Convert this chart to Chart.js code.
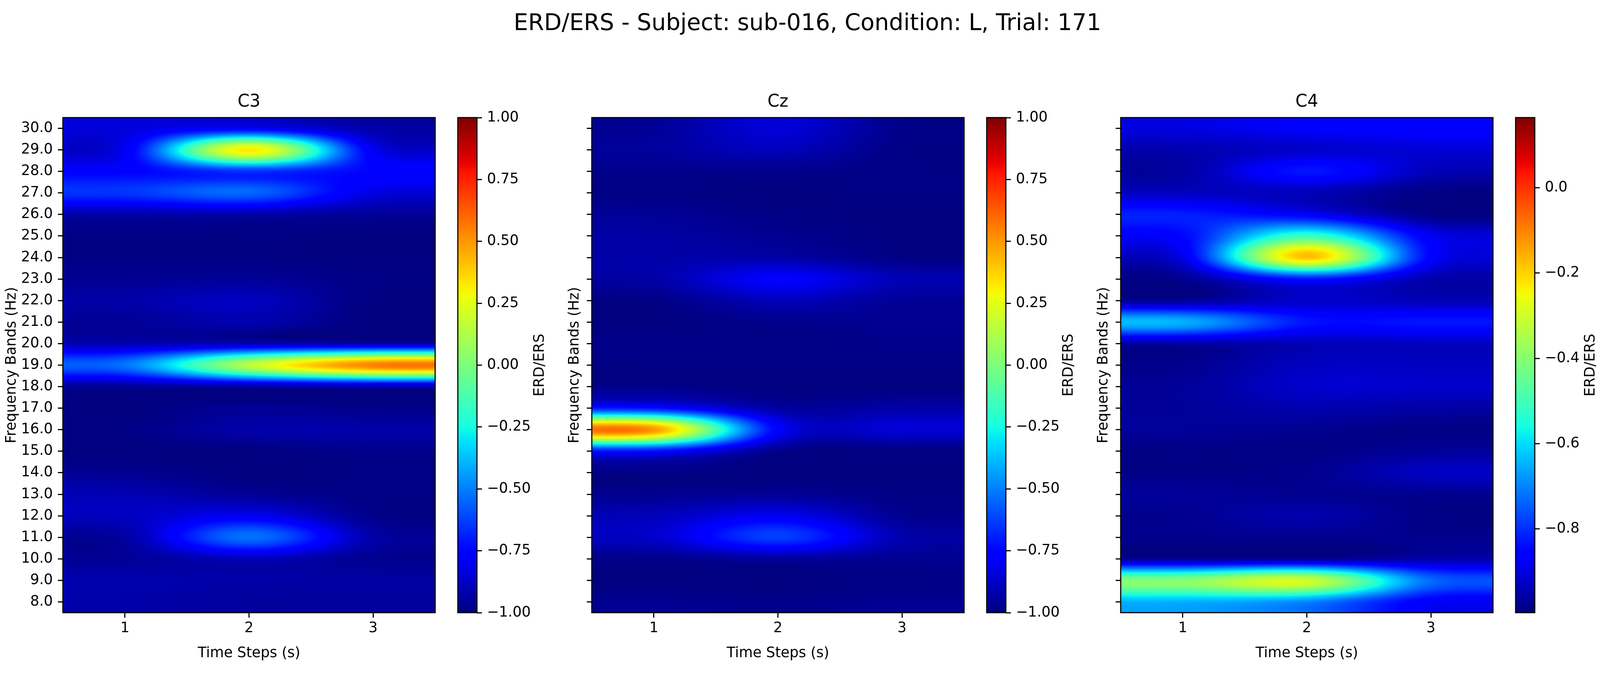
<!DOCTYPE html>
<html lang="en">
<head>
  <meta charset="UTF-8">
  <title>ERD/ERS</title>
  <script src="https://cdn.jsdelivr.net/npm/chart.js"></script>
  <style>
    html, body {
      margin: 0;
      background: #fff;
      overflow: hidden;
    }

    #page {
      position: relative;
      width: 100vw;
      height: 1725px;
      overflow: hidden;
      font-family: 'DejaVu Sans', sans-serif;
    }

    #suptitle {
      position: absolute;
      left: 0;
      top: 17px;
      text-align: center;
      line-height: 80px;
      color: #000;
      white-space: nowrap;
    }

    canvas {
      position: absolute;
      top: 0;
    }
  </style>
</head>
<body>
  <div id="page">
    <div id="suptitle">ERD/ERS - Subject: sub-016, Condition: L, Trial: 171</div>
  </div>

  <script>
    const timeSteps = [1, 2, 3];
    const freqBands = [8, 9, 10, 11, 12, 13, 14, 15, 16, 17, 18, 19, 20, 21, 22, 23, 24, 25, 26, 27, 28, 29, 30];

    // values per time step, 8 Hz first
    const c3T1 = [-0.93, -0.92, -0.96, -0.94, -0.89, -0.91, -0.97, -1.0, -0.99, -1.0, -0.96, -0.52, -0.91, -0.96, -0.93, -0.97, -0.99, -0.99, -0.93, -0.65, -0.76, -0.80, -0.84];
    const c3T2 = [-0.95, -0.93, -0.90, -0.53, -0.80, -0.96, -1.0, -1.0, -0.93, -0.96, -0.94, 0.15, -0.90, -0.92, -0.89, -0.96, -0.99, -0.99, -0.93, -0.55, -0.66, 0.33, -0.78];
    const c3T3 = [-0.95, -0.94, -0.97, -0.93, -0.98, -0.99, -0.99, -0.98, -0.93, -0.98, -0.92, 0.55, -0.91, -1.0, -1.0, -0.99, -1.0, -1.0, -0.96, -0.83, -0.75, -0.80, -0.93];

    const czT1 = [-0.97, -1.0, -0.98, -0.87, -0.90, -0.97, -0.99, -0.74, 0.50, -0.72, -0.98, -0.99, -0.98, -1.0, -0.99, -0.93, -0.93, -0.94, -0.96, -0.99, -0.98, -0.95, -0.96];
    const czT2 = [-0.98, -1.0, -0.95, -0.63, -0.80, -0.96, -1.0, -0.98, -0.77, -0.94, -1.0, -0.99, -0.99, -0.98, -0.90, -0.78, -0.93, -0.97, -0.99, -1.0, -0.98, -0.90, -0.85];
    const czT3 = [-0.97, -0.99, -0.97, -0.92, -0.97, -0.99, -1.0, -1.0, -0.85, -0.93, -1.0, -0.99, -0.98, -0.97, -0.96, -0.91, -0.99, -1.0, -1.0, -0.99, -0.99, -0.99, -0.98];

    const c4T1 = [-0.65, -0.40, -0.97, -0.98, -0.98, -0.97, -0.99, -0.99, -0.97, -0.97, -0.97, -0.98, -0.96, -0.65, -0.97, -0.98, -0.89, -0.85, -0.82, -0.93, -0.96, -0.95, -0.90];
    const c4T2 = [-0.70, -0.30, -0.97, -0.98, -0.95, -0.98, -0.98, -0.99, -0.98, -0.95, -0.92, -0.93, -0.94, -0.83, -0.92, -0.83, -0.18, -0.51, -0.87, -0.94, -0.83, -0.92, -0.87];
    const c4T3 = [-0.87, -0.73, -0.95, -0.98, -0.99, -0.98, -0.93, -0.97, -0.99, -0.96, -0.92, -0.93, -0.93, -0.83, -0.94, -0.95, -0.86, -0.88, -0.99, -0.99, -0.94, -0.91, -0.86];

    const cbarTicksFull = [-1, -0.75, -0.5, -0.25, 0, 0.25, 0.5, 0.75, 1];
    const cbarTicksC4 = [-0.8, -0.6, -0.4, -0.2, 0];

    // the browser window can come out narrower than the 5318 asked for,
    // so x positions follow the real width and text shrinks a bit with it
    const SX = window.innerWidth / 5318;
    const FS = Math.sqrt(SX);

    const FONT_FAMILY = "'DejaVu Sans'";
    const LABEL_SIZE = 41.67 * FS;
    const LINE_W = 3.33 * FS;
    const TICK_LEN = 14.6 * FS;
    const TICK_PAD = 14.6 * FS;
    const AREA_TOP = 301;
    const AREA_BOTTOM = 1568;
    const AREA_W = Math.round(1237 * SX);
    const YAXIS_W = Math.round(209 * SX);
    const CBAR_W = Math.round(63 * SX);
    const CBAR_CANVAS_W = 320;

    Chart.defaults.font.family = FONT_FAMILY;
    Chart.defaults.font.size = LABEL_SIZE;
    Chart.defaults.color = '#000';
    Chart.defaults.animation = false;

    const suptitle = document.getElementById('suptitle');
    suptitle.style.fontSize = 66.67 * FS + 'px';
    suptitle.style.width = 2 * 2683.7 * SX + 'px';

    // same breakpoints as matplotlib's jet
    function ramp(pts, t) {
      for (let i = 1; i < pts.length; i++) {
        if (t <= pts[i][0]) {
          const f = (t - pts[i - 1][0]) / (pts[i][0] - pts[i - 1][0]);
          return pts[i - 1][1] + f * (pts[i][1] - pts[i - 1][1]);
        }
      }
      return pts[pts.length - 1][1];
    }
    const jetR = [[0, 0], [0.35, 0], [0.66, 1], [0.89, 1], [1, 0.5]];
    const jetG = [[0, 0], [0.125, 0], [0.375, 1], [0.64, 1], [0.91, 0], [1, 0]];
    const jetB = [[0, 0.5], [0.11, 1], [0.34, 1], [0.65, 0], [1, 0]];
    function jet(t) {
      t = Math.min(1, Math.max(0, t));
      return [ramp(jetR, t) * 255, ramp(jetG, t) * 255, ramp(jetB, t) * 255];
    }

    // catmull-rom, clamped at the ends
    function cubic(p0, p1, p2, p3, t) {
      return 0.5 * (2 * p1 + (p2 - p0) * t + (2 * p0 - 5 * p1 + 4 * p2 - p3) * t * t + (3 * p1 - p0 - 3 * p2 + p3) * t * t * t);
    }
    function sample(arr, pos) {
      const n = arr.length;
      const i = Math.floor(pos);
      const at = k => arr[Math.min(n - 1, Math.max(0, k))];
      return cubic(at(i - 1), at(i), at(i + 1), at(i + 2), pos - i);
    }

    const heatmapPlugin = {
      id: 'heatmap',
      beforeDatasetsDraw(chart, args, opts) {
        const area = chart.chartArea;
        const xs = chart.scales.x;
        const ys = chart.scales.y;
        const w = Math.round(area.right - area.left);
        const h = Math.round(area.bottom - area.top);
        if (!chart.$image) {
          // rebuild the grid from the dataset points
          const cols = timeSteps.map(t => chart.data.datasets[0].data.filter(d => d.x === t).map(d => d.v));
          const off = document.createElement('canvas');
          off.width = w;
          off.height = h;
          const octx = off.getContext('2d');
          const img = octx.createImageData(w, h);
          const colPos = [];
          for (let px = 0; px < w; px++) colPos.push(xs.getValueForPixel(area.left + px + 0.5) - timeSteps[0]);
          for (let py = 0; py < h; py++) {
            const rowPos = ys.getValueForPixel(area.top + py + 0.5) - freqBands[0];
            const colVals = cols.map(c => sample(c, rowPos));
            for (let px = 0; px < w; px++) {
              const v = sample(colVals, colPos[px]);
              const c = jet((v - opts.vmin) / (opts.vmax - opts.vmin));
              const k = (py * w + px) * 4;
              img.data[k] = c[0];
              img.data[k + 1] = c[1];
              img.data[k + 2] = c[2];
              img.data[k + 3] = 255;
            }
          }
          octx.putImageData(img, 0, 0);
          chart.$image = off;
        }
        chart.ctx.drawImage(chart.$image, area.left, area.top);
      }
    };

    const colorbarPlugin = {
      id: 'colorbar',
      beforeDatasetsDraw(chart, args, opts) {
        const area = chart.chartArea;
        const ys = chart.scales.y;
        const ctx = chart.ctx;
        for (let py = Math.round(area.top); py < area.bottom; py++) {
          const c = jet((ys.getValueForPixel(py + 0.5) - opts.vmin) / (opts.vmax - opts.vmin));
          ctx.fillStyle = `rgb(${c[0]}, ${c[1]}, ${c[2]})`;
          ctx.fillRect(area.left, py, area.right - area.left, 1);
        }
      },
      afterDraw(chart, args, opts) {
        const area = chart.chartArea;
        const ctx = chart.ctx;
        ctx.save();
        ctx.translate(area.right + opts.labelOffset, (area.top + area.bottom) / 2);
        ctx.rotate(-Math.PI / 2);
        ctx.font = `${LABEL_SIZE}px ${FONT_FAMILY}`;
        ctx.fillStyle = '#000';
        ctx.textAlign = 'center';
        ctx.textBaseline = 'middle';
        ctx.fillText(opts.label, 0, 0);
        ctx.restore();
      }
    };

    const framePlugin = {
      id: 'frame',
      afterDraw(chart) {
        const a = chart.chartArea;
        const ctx = chart.ctx;
        ctx.save();
        ctx.strokeStyle = '#000';
        ctx.lineWidth = LINE_W;
        ctx.strokeRect(a.left, a.top, a.right - a.left, a.bottom - a.top);
        ctx.restore();
      }
    };

    function addCanvas(left, width) {
      const canvas = document.createElement('canvas');
      canvas.width = width;
      canvas.height = 1725;
      canvas.style.left = left + 'px';
      canvas.style.width = width + 'px';
      canvas.style.height = '1725px';
      document.getElementById('page').appendChild(canvas);
      return canvas;
    }

    function tickGrid() {
      return {
        display: true,
        drawOnChartArea: false,
        drawTicks: true,
        tickLength: TICK_LEN,
        tickWidth: LINE_W,
        tickColor: '#000'
      };
    }

    function heatmap(opts) {
      const points = [];
      opts.columns.forEach((col, i) => {
        col.forEach((v, j) => points.push({ x: timeSteps[i], y: freqBands[j], v: v }));
      });
      const left = Math.round(opts.left * SX);
      const titleLine = 50 * FS * 1.2;
      const yLine = LABEL_SIZE * 1.2;
      return new Chart(addCanvas(left - YAXIS_W, YAXIS_W + AREA_W + 4), {
        type: 'scatter',
        data: { datasets: [{ data: points, pointRadius: 0 }] },
        plugins: [heatmapPlugin, framePlugin],
        options: {
          responsive: false,
          devicePixelRatio: 1,
          layout: { padding: { left: 0, right: 4, top: 0, bottom: 0 } },
          plugins: {
            legend: { display: false },
            tooltip: { enabled: false },
            heatmap: { vmin: opts.vmin, vmax: opts.vmax },
            title: {
              display: true,
              text: opts.title,
              fullSize: false,
              color: '#000',
              font: { size: 50 * FS, weight: 'normal' },
              padding: { top: 262 - titleLine / 2, bottom: 39 - titleLine / 2 }
            }
          },
          scales: {
            x: {
              type: 'linear',
              min: 0.5,
              max: 3.5,
              afterBuildTicks: axis => { axis.ticks = timeSteps.map(v => ({ value: v })); },
              afterFit: axis => { axis.height = 1725 - AREA_BOTTOM; },
              grid: tickGrid(),
              border: { display: false },
              ticks: { padding: 5.4, autoSkip: false, maxRotation: 0, callback: v => String(v) },
              title: { display: true, text: 'Time Steps (s)', padding: { top: 0, bottom: 53 - yLine / 2 } }
            },
            y: {
              type: 'linear',
              min: 7.5,
              max: 30.5,
              afterBuildTicks: axis => { axis.ticks = freqBands.map(v => ({ value: v })); },
              afterFit: axis => { axis.width = YAXIS_W; },
              grid: tickGrid(),
              border: { display: false },
              ticks: {
                padding: TICK_PAD,
                autoSkip: false,
                maxRotation: 0,
                callback: v => (opts.showLabels ? v.toFixed(1) : '')
              },
              title: {
                display: true,
                text: 'Frequency Bands (Hz)',
                padding: { top: YAXIS_W - opts.yTitleOffset * FS - yLine / 2, bottom: 0 }
              }
            }
          }
        }
      });
    }

    function colorbar(opts) {
      return new Chart(addCanvas(Math.round(opts.left * SX) - 4, CBAR_CANVAS_W), {
        type: 'scatter',
        data: { datasets: [{ data: [], pointRadius: 0 }] },
        plugins: [colorbarPlugin, framePlugin],
        options: {
          responsive: false,
          devicePixelRatio: 1,
          layout: { padding: { left: 4, right: 0, top: AREA_TOP, bottom: 1725 - AREA_BOTTOM } },
          plugins: {
            legend: { display: false },
            tooltip: { enabled: false },
            colorbar: { vmin: opts.vmin, vmax: opts.vmax, label: 'ERD/ERS', labelOffset: opts.labelOffset * FS }
          },
          scales: {
            x: { type: 'linear', display: false, min: 0, max: 1 },
            y: {
              type: 'linear',
              position: 'right',
              min: opts.vmin,
              max: opts.vmax,
              afterBuildTicks: axis => { axis.ticks = opts.ticks.map(v => ({ value: v })); },
              afterFit: axis => { axis.width = CBAR_CANVAS_W - 4 - CBAR_W; },
              grid: tickGrid(),
              border: { display: false },
              ticks: {
                padding: TICK_PAD,
                autoSkip: false,
                maxRotation: 0,
                callback: v => v.toFixed(opts.digits).replace('-', '\u2212')
              }
            }
          }
        }
      });
    }

    heatmap({ left: 209, title: 'C3', columns: [c3T1, c3T2, c3T3], vmin: -1, vmax: 1, showLabels: true, yTitleOffset: 149 });
    heatmap({ left: 1967, title: 'Cz', columns: [czT1, czT2, czT3], vmin: -1, vmax: 1, showLabels: false, yTitleOffset: 50 });
    heatmap({ left: 3725, title: 'C4', columns: [c4T1, c4T2, c4T3], vmin: -0.996, vmax: 0.164, showLabels: false, yTitleOffset: 50 });

    colorbar({ left: 1522, vmin: -1, vmax: 1, ticks: cbarTicksFull, digits: 2, labelOffset: 184 });
    colorbar({ left: 3280, vmin: -1, vmax: 1, ticks: cbarTicksFull, digits: 2, labelOffset: 184 });
    colorbar({ left: 5038, vmin: -0.996, vmax: 0.164, ticks: cbarTicksC4, digits: 1, labelOffset: 164 });
  </script>
</body>
</html>
